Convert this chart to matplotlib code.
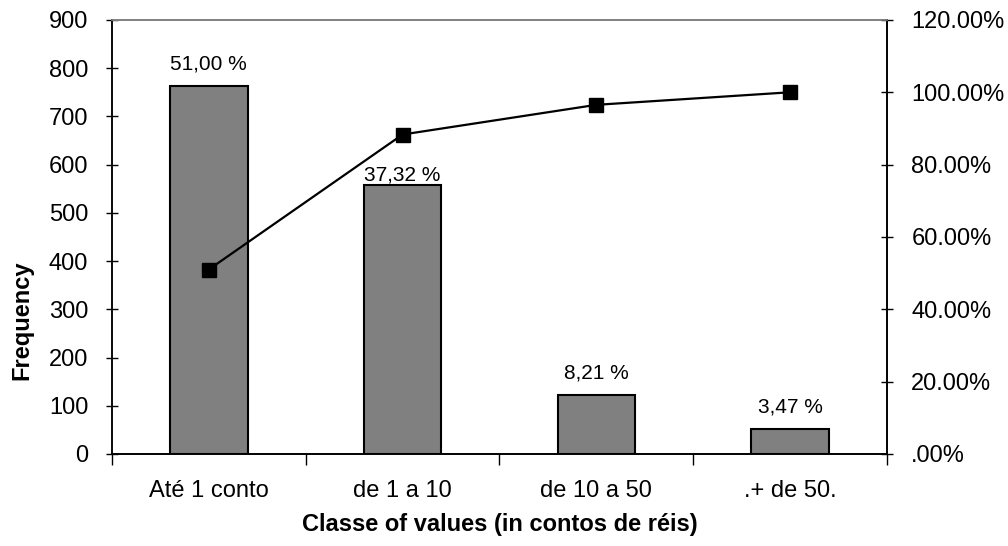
import numpy as np
import matplotlib.pyplot as plt
from matplotlib.ticker import FuncFormatter

plt.rcParams['font.family'] = ['Liberation Sans', 'DejaVu Sans']

# data
categories = ['Até 1 conto', 'de 1 a 10', 'de 10 a 50', '.+ de 50.']
frequency = [763, 558, 123, 52]
share_labels = ['51,00 %', '37,32 %', '8,21 %', '3,47 %']
cumulative_pct = [51.00, 88.32, 96.53, 100.00]

# label lift above each bar (points); the second one sits under the line
label_offsets = [12, 3, 12, 12]

fig = plt.figure(figsize=(10.08, 5.46), dpi=100)
ax = fig.add_axes([0.111, 0.1685, 0.769, 0.795])
x = np.arange(len(categories))

ax.bar(x, frequency, width=0.4, color='#808080', edgecolor='black', linewidth=1.5, zorder=2)
for xi, f, lab, off in zip(x, frequency, share_labels, label_offsets):
    ax.annotate(lab, (xi, f), xytext=(0, off), textcoords='offset points',
                ha='center', va='baseline', fontsize=15)

ax.set_xlim(-0.5, len(categories) - 0.5)
ax.set_ylim(0, 900)
ax.set_yticks(range(0, 901, 100))
ax.set_xticks(np.arange(-0.5, len(categories), 1.0))
ax.set_xticklabels([])
ax.set_xticks(x, minor=True)
ax.set_xticklabels(categories, minor=True, fontsize=17)
ax.tick_params(axis='x', which='major', direction='out', length=8, width=1)
ax.tick_params(axis='x', which='minor', length=0, pad=19)
ax.tick_params(axis='y', direction='inout', length=9, width=1, labelsize=17, pad=12.5)

ax.set_ylabel('Frequency', fontsize=17, fontweight='bold', labelpad=11)
ax.yaxis.label.set_y(0.309)  # sits low, not centred
ax.set_xlabel('Classe of values (in contos de réis)', fontsize=17, fontweight='bold', labelpad=8)

ax.spines['top'].set_color('#808080')
ax.spines['left'].set_color('#404040')
for s in ax.spines.values():
    s.set_linewidth(1.2)

ax2 = ax.twinx()
ax2.plot(x, cumulative_pct, color='black', linewidth=1.6, marker='s', markersize=10, zorder=3)
ax2.set_ylim(0, 120)
ax2.set_yticks(range(0, 121, 20))
ax2.yaxis.set_major_formatter(FuncFormatter(lambda v, p: ('%.2f%%' % v).lstrip('0') if v == 0 else '%.2f%%' % v))
ax2.tick_params(axis='y', direction='inout', length=9, width=1, labelsize=17, pad=13)
ax2.spines['top'].set_color('#808080')
for s in ax2.spines.values():
    s.set_linewidth(1.2)

fig.savefig('out.png', dpi=100)
